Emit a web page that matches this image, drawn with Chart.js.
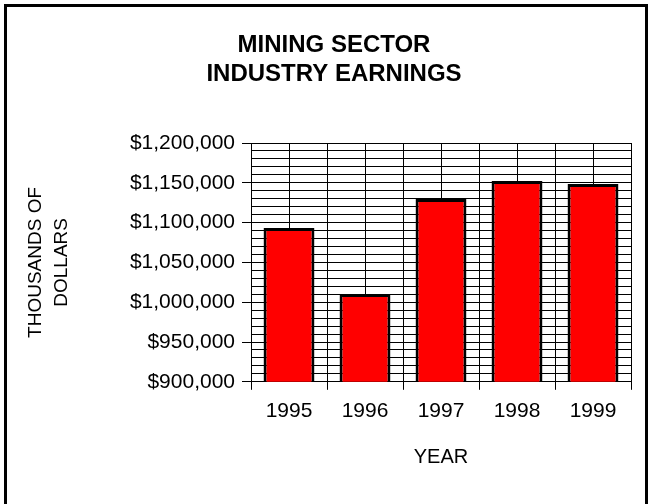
<!DOCTYPE html>
<html>
<head>
<meta charset="utf-8">
<title>Mining Sector Industry Earnings</title>
<script src="https://cdn.jsdelivr.net/npm/chart.js@4/dist/chart.umd.min.js"></script>
<style>
  body { margin: 0; background: #fff; }
  #wrap { position: relative; width: 650px; height: 504px; overflow: hidden; background: #fff; }
  #frame { position: absolute; left: 4px; top: 4px; width: 638px; height: 520px; border: 3px solid #000; }
  #myChart { position: absolute; left: 0; top: 0; }
</style>
</head>
<body>
<div id="wrap">
  <div id="frame"></div>
  <canvas id="myChart" width="650" height="504"></canvas>
</div>
<script>
// chart data
const years = ['1995', '1996', '1997', '1998', '1999'];
const earnings = [1093300, 1010400, 1129700, 1152300, 1148500];
const titleLines = ['MINING SECTOR', 'INDUSTRY EARNINGS'];
const yTitle = ['THOUSANDS OF', 'DOLLARS'];
const xTitle = 'YEAR';
const yMin = 900000;
const yMax = 1200000;
const yMajor = 50000;
const yMinor = 10000;

Chart.defaults.font.family = '"Liberation Sans", Arial, sans-serif';
Chart.defaults.color = '#000';

// two-line bold title, centred over the whole frame
const boxTitle = {
    id: 'boxTitle',
    afterDraw(chart) {
        const ctx = chart.ctx;
        ctx.save();
        ctx.font = 'bold 24px "Liberation Sans", Arial, sans-serif';
        ctx.fillStyle = '#000';
        ctx.textAlign = 'center';
        ctx.textBaseline = 'middle';
        titleLines.forEach((t, i) => ctx.fillText(t, 334, 45 + i * 29));
        ctx.restore();
    }
};

const ctx = document.getElementById('myChart').getContext('2d');
new Chart(ctx, {
    type: 'bar',
    data: {
        labels: years,
        datasets: [{
            label: 'Earnings',
            data: earnings,
            backgroundColor: '#ff0000',
            borderColor: '#000',
            borderWidth: 3,
            borderSkipped: false,
            barPercentage: 0.67,
            categoryPercentage: 1
        }]
    },
    options: {
        responsive: false,
        animation: false,
        layout: {
            padding: { left: 10, right: 19, top: 143, bottom: 35 }
        },
        plugins: {
            legend: { display: false },
            tooltip: { enabled: false }
        },
        scales: {
            x: {
                offset: true,
                grid: {
                    offset: true,
                    color: '#000',
                    tickColor: '#000',
                    tickLength: 8
                },
                border: { color: '#000' },
                ticks: {
                    font: { size: 21 },
                    padding: 9
                },
                title: {
                    display: true,
                    text: xTitle,
                    font: { size: 20, lineHeight: 1.2 },
                    padding: { top: 12, bottom: 0 }
                }
            },
            // second category axis only for the grid lines through the bar centres
            x2: {
                type: 'category',
                labels: years,
                position: 'top',
                offset: true,
                grid: { offset: false, color: '#000', drawTicks: false },
                border: { display: false },
                ticks: { display: false }
            },
            y: {
                min: yMin,
                max: yMax,
                grid: {
                    color: '#000',
                    tickLength: 9,
                    tickColor: c => (c.tick && c.tick.value % yMajor === 0) ? '#000' : 'rgba(0,0,0,0)'
                },
                border: { color: '#000' },
                ticks: {
                    stepSize: yMinor,
                    autoSkip: false,
                    font: { size: 21 },
                    padding: 7,
                    callback: v => v % yMajor === 0 ? '$' + v.toLocaleString('en-US') : ''
                },
                title: {
                    display: true,
                    text: yTitle,
                    font: { size: 19, lineHeight: 1.35 },
                    padding: { top: 13, bottom: 0 }
                },
                afterFit: scale => { scale.width = 241; }
            }
        }
    },
    plugins: [boxTitle]
});
</script>
</body>
</html>
